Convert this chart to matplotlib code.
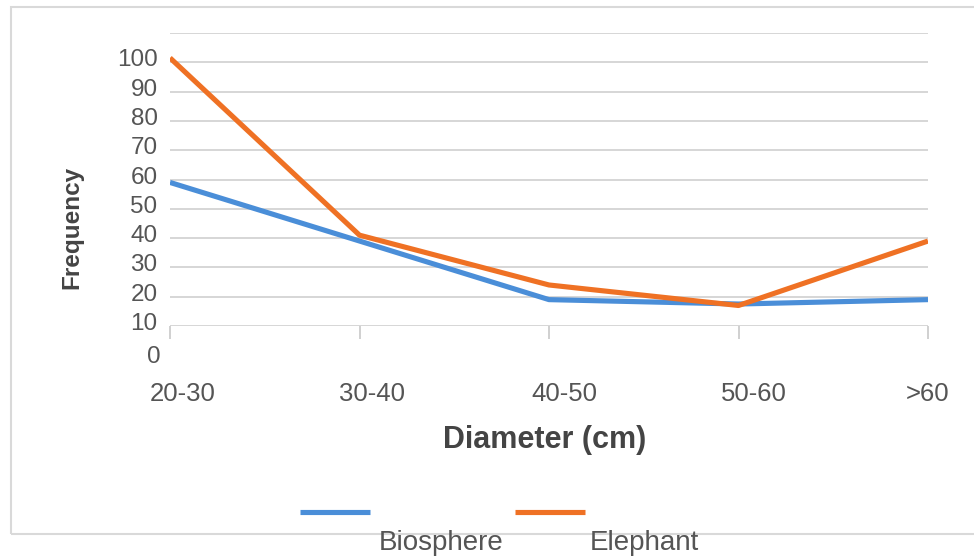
import matplotlib
matplotlib.use("Agg")
import matplotlib.pyplot as plt
from matplotlib.lines import Line2D
from matplotlib.patches import Rectangle
import matplotlib.transforms as mtransforms

plt.rcParams['font.family'] = ['Liberation Sans', 'DejaVu Sans']

categories = ["20-30", "30-40", "40-50", "50-60", ">60"]
biosphere = [59, 39, 19, 17.5, 19]
elephant = [101.5, 41, 24, 17, 39]
y_ticks = [10, 20, 30, 40, 50, 60, 70, 80, 90, 100]
series_names = ["Biosphere", "Elephant"]

W, H = 974, 560
fig = plt.figure(figsize=(W / 100, H / 100), dpi=100)
fig.patch.set_facecolor("white")

# outer frame
fig.add_artist(Rectangle((11 / W, 1 - 534 / H), (W + 20 - 11) / W, (534 - 7) / H,
                         transform=fig.transFigure, fill=False, edgecolor="#d9d9d9",
                         linewidth=1.5, clip_on=False))

left, right = 170 / W, 928 / W
bottom, top = 1 - 326 / H, 1 - 33 / H
ax = fig.add_axes([left, bottom, right - left, top - bottom])

blue = "#4a8ed8"
orange = "#ef7124"
x = list(range(len(categories)))
ax.plot(x, biosphere, color=blue, linewidth=3.7, solid_capstyle="butt", zorder=3)
ax.plot(x, elephant, color=orange, linewidth=3.7, solid_capstyle="butt", zorder=4)

ax.set_xlim(0, len(categories) - 1)
ax.set_ylim(10, 110)
for s in ax.spines.values():
    s.set_visible(False)

grid_vals = list(range(10, 111, 10))
for g in grid_vals:
    ax.axhline(g, color="#d6d6d6", linewidth=1.4, zorder=1)

ax.set_yticks(y_ticks)
ax.set_yticklabels([str(v) for v in y_ticks])
ax.tick_params(axis="y", length=0, pad=9, labelsize=17.5, labelcolor="#555555")
off = mtransforms.ScaledTranslation(0, 4.5 / 100, fig.dpi_scale_trans)
for lab in ax.get_yticklabels():
    lab.set_transform(lab.get_transform() + off)
# the "0" label sits below the baseline
zero_tr = (mtransforms.blended_transform_factory(ax.transAxes, ax.transData) +
           mtransforms.ScaledTranslation(-9 / 100, 1 / 100, fig.dpi_scale_trans))
ax.text(0, 0, "0", transform=zero_tr, ha="right", va="center_baseline",
        fontsize=17.5, color="#555555", clip_on=False)

ax.set_xticks(x)
ax.set_xticklabels(categories)
ax.tick_params(axis="x", length=9, width=1.4, color="#d0d0d0", pad=31,
               labelsize=18.5, labelcolor="#555555")
x_label_shift = [13, 13, 15, 15, 0]
for lab, dx in zip(ax.get_xticklabels(), x_label_shift):
    lab.set_transform(lab.get_transform() +
                      mtransforms.ScaledTranslation(dx / 100, 0, fig.dpi_scale_trans))

fig.text(72 / W, 1 - 227 / H, "Frequency", rotation=90, ha="center", va="center",
         fontsize=17.5, fontweight="bold", color="#444444")
fig.text(545 / W, 1 - 440 / H, "Diameter (cm)", ha="center", va="center",
         fontsize=22, fontweight="bold", color="#444444")

# legend
fig.add_artist(Line2D([300 / W, 370 / W], [1 - 512 / H] * 2, transform=fig.transFigure,
                      color=blue, linewidth=3.7, solid_capstyle="butt"))
fig.add_artist(Line2D([515 / W, 585 / W], [1 - 512 / H] * 2, transform=fig.transFigure,
                      color=orange, linewidth=3.7, solid_capstyle="butt"))
fig.text(379 / W, 1 - 543 / H, series_names[0], ha="left", va="center",
         fontsize=20, color="#555555")
fig.text(590 / W, 1 - 543 / H, series_names[1], ha="left", va="center",
         fontsize=20, color="#555555")

fig.savefig("out.png", dpi=100, facecolor="white")
